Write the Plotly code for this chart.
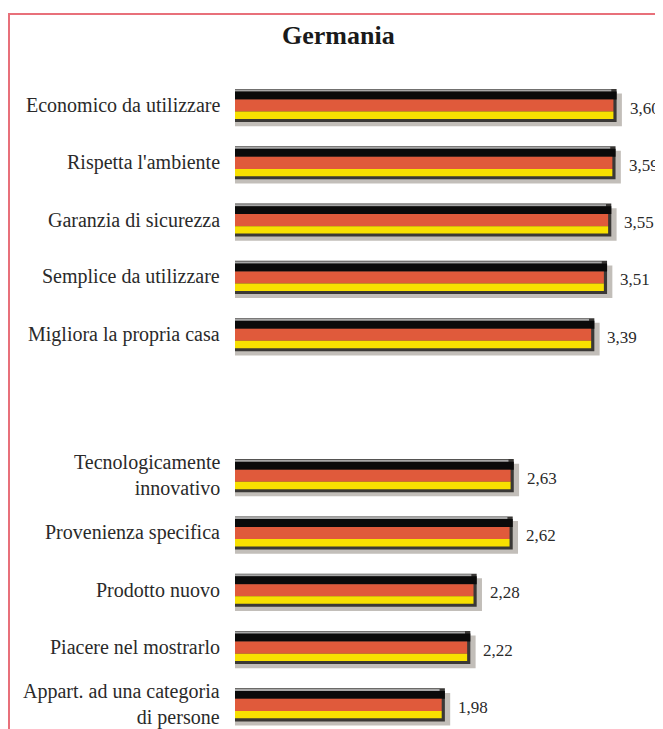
import plotly.graph_objects as go

# valori
labels_top = ["Economico da utilizzare", "Rispetta l'ambiente", "Garanzia di sicurezza",
              "Semplice da utilizzare", "Migliora la propria casa"]
values_top = [3.60, 3.59, 3.55, 3.51, 3.39]

labels_bottom = ["Tecnologicamente<br>innovativo", "Provenienza specifica", "Prodotto nuovo",
                 "Piacere nel mostrarlo", "Appart. ad una categoria<br>di persone"]
values_bottom = [2.63, 2.62, 2.28, 2.22, 1.98]

title = "Germania"

labels = labels_top + labels_bottom
values = values_top + values_bottom
# row positions (gap between the two groups)
pos = list(range(len(values_top))) + [len(values_top) - 1 + 2.46 + i for i in range(len(values_bottom))]

font = "Liberation Serif"
W, H = 655, 721          # page body adds 8px margin
L = 227                  # left margin -> bars start here
fig = go.Figure()

def stripe(x, offset, width, color):
    fig.add_trace(go.Bar(x=x, y=pos, orientation="h", offset=offset, width=width,
                         marker=dict(color=color, line=dict(width=0)),
                         hoverinfo="skip", showlegend=False))

# shadow
stripe([v + 0.05 for v in values], -0.20, 0.57, "rgba(120,110,100,0.45)")
# dark frame
stripe(values, -0.28, 0.577, "#3a3836")
# top highlight
stripe([v - 0.05 for v in values], -0.27, 0.04, "#a8a8a8")
# flag stripes
stripe(values, -0.235, 0.139, "#0a0a0a")
stripe([v - 0.03 for v in values], -0.096, 0.211, "#e05a3b")
stripe([v - 0.03 for v in values], 0.115, 0.129, "#f8e000")

# category labels
for lab, p in zip(labels, pos):
    fig.add_annotation(x=0, y=p, xref="paper", text=lab, showarrow=False,
                       xanchor="right", yanchor="middle", align="right", xshift=-13,
                       font=dict(family=font, size=20, color="#2a2a2a"))

# values
for v, p in zip(values, pos):
    fig.add_annotation(x=v, y=p, text=f"{v:.2f}".replace(".", ","), showarrow=False,
                       xanchor="left", yanchor="middle", xshift=11, yshift=-3,
                       font=dict(family=font, size=17, color="#2a2a2a"))

fig.add_annotation(x=(330 - L) / (W - L), y=1 - 28 / H, xref="paper", yref="paper",
                   text="<b>" + title + "</b>", showarrow=False, xanchor="center", yanchor="middle",
                   font=dict(family=font, size=26, color="#1a1a1a"))

# pink frame
fig.add_shape(type="rect", xref="paper", yref="paper", x0=(1 - L) / (W - L), x1=1.05,
              y0=-0.05, y1=1 - 6 / H, line=dict(color="#e8707a", width=2))

fig.update_layout(
    width=W, height=H,
    margin=dict(l=L, r=0, t=0, b=0),
    barmode="overlay",
    plot_bgcolor="white", paper_bgcolor="white",
    xaxis=dict(range=[0, (W - L) / 106], visible=False),
    yaxis=dict(range=[-97 / 57.3 + H / 57.3, -97 / 57.3], visible=False),
)

fig.write_html("out.html")
